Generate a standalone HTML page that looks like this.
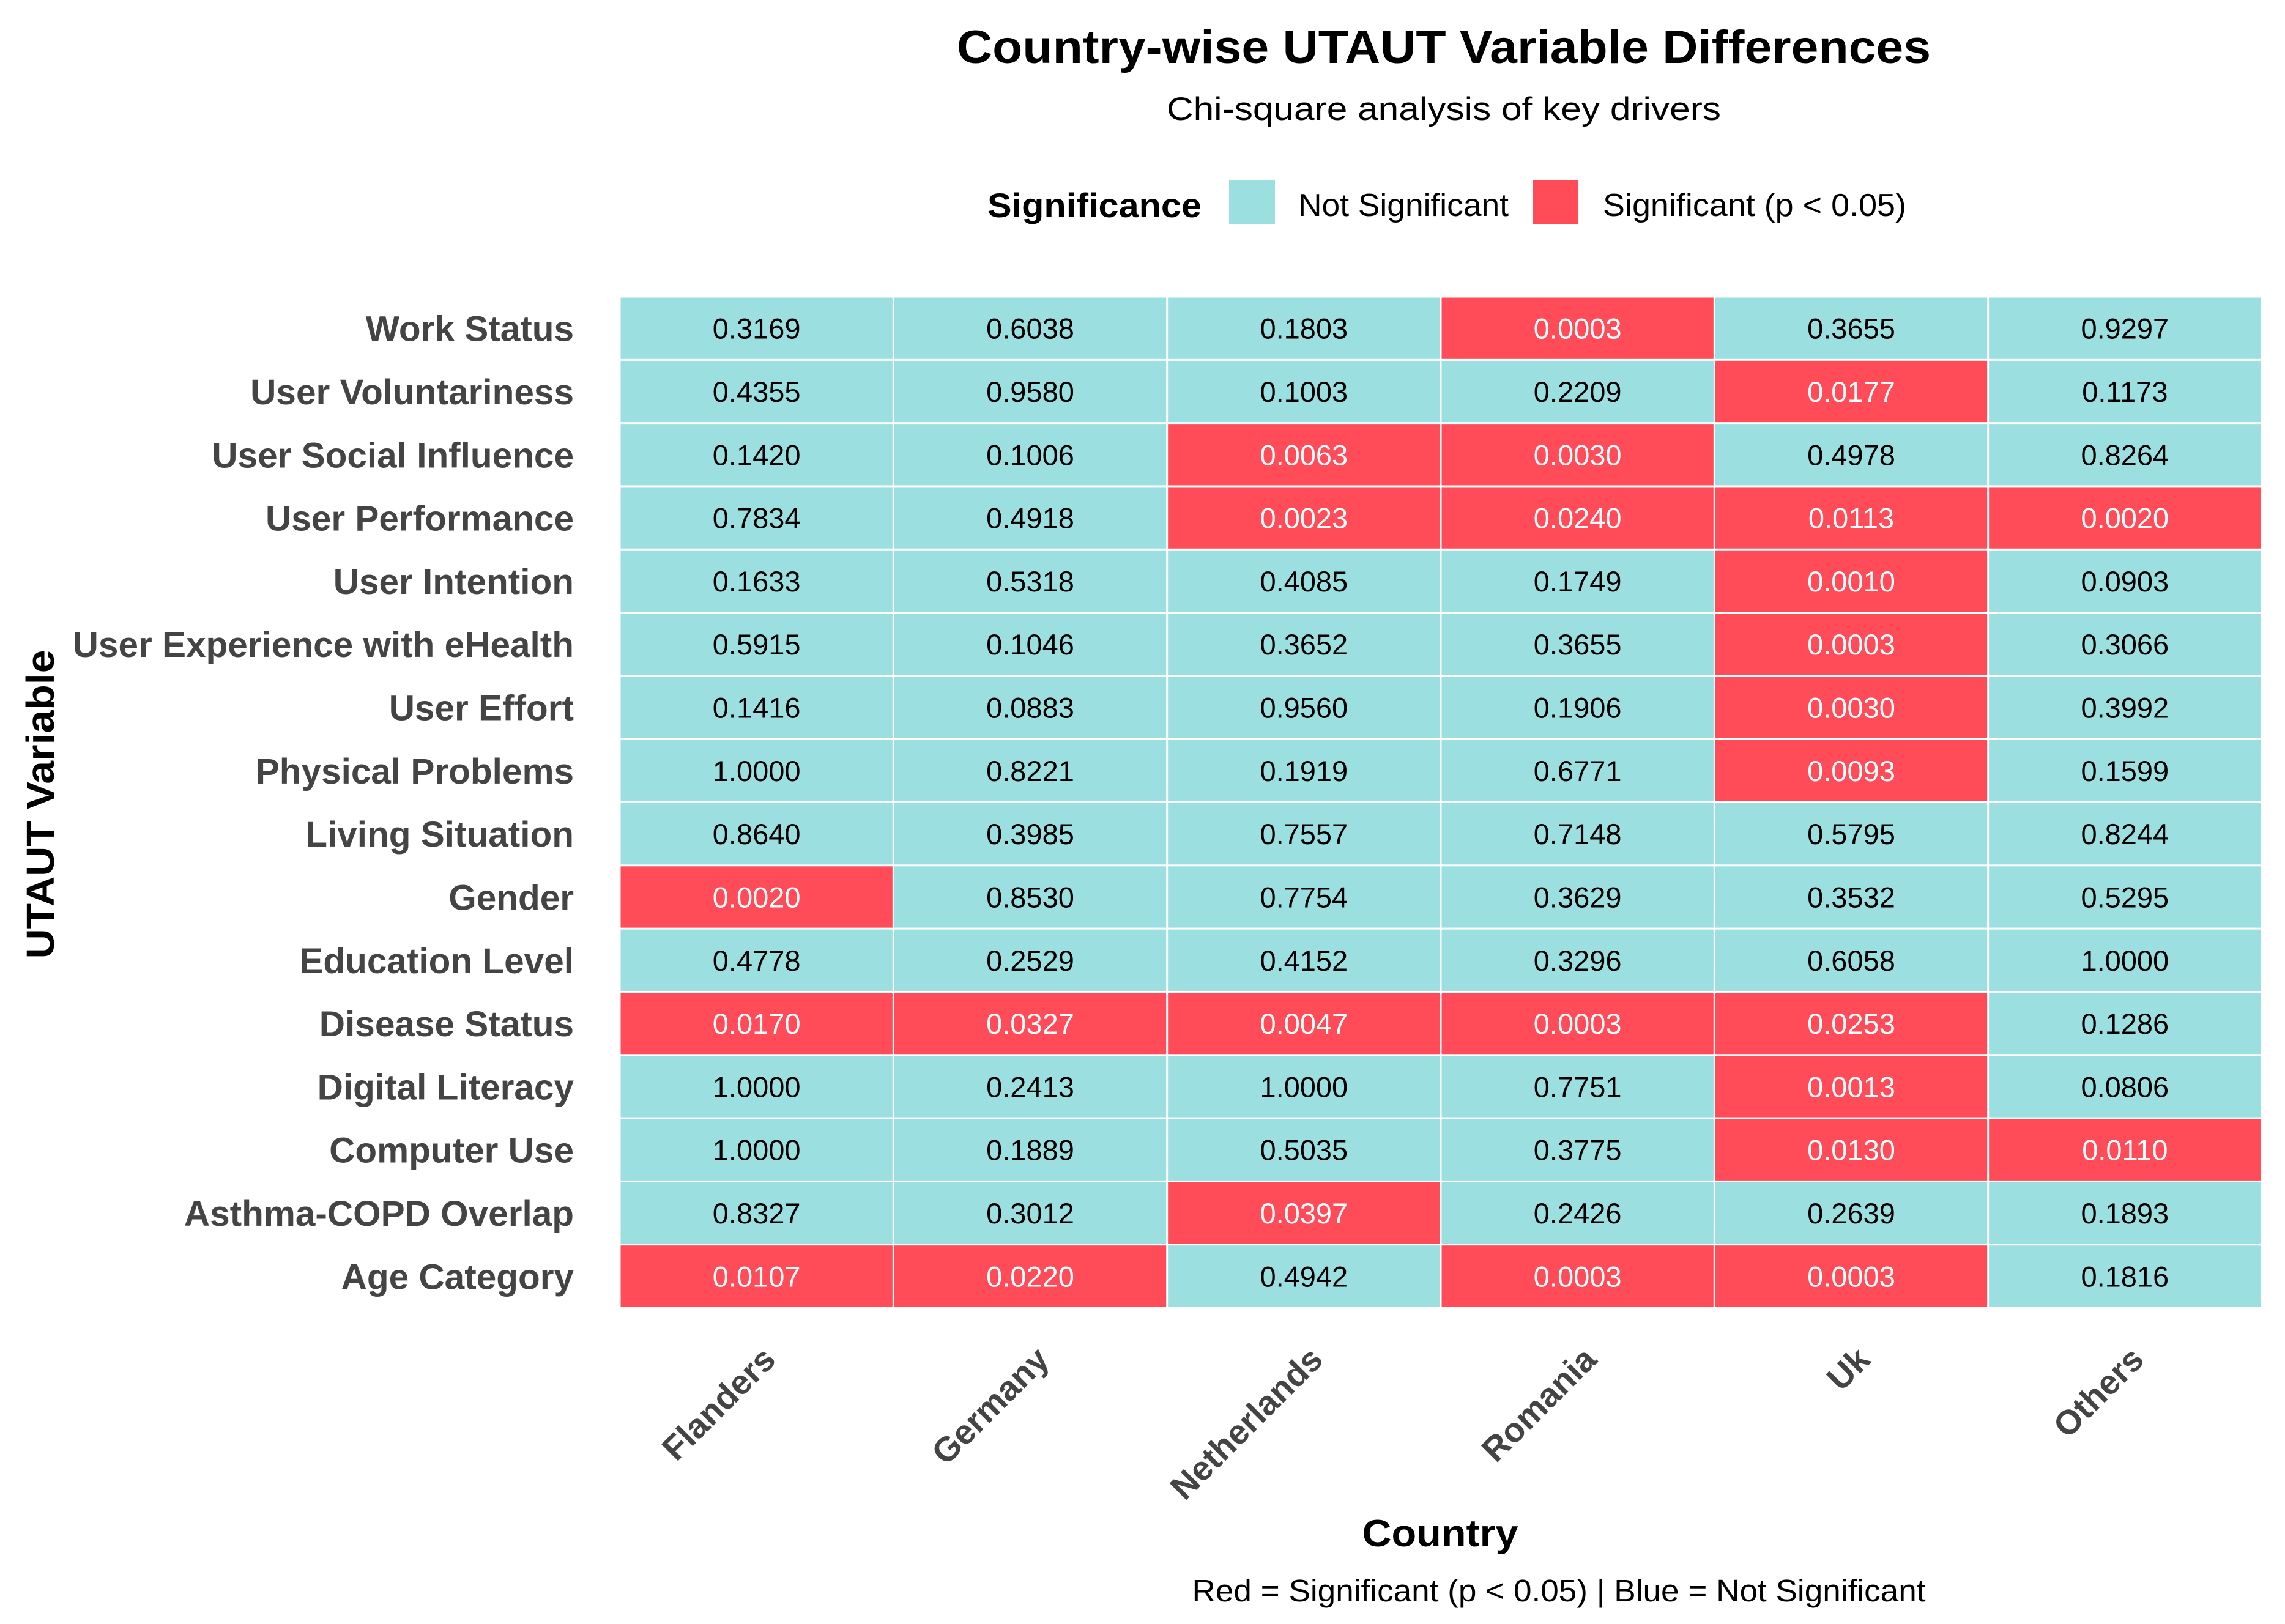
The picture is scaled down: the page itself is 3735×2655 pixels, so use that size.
<!DOCTYPE html>
<html><head><meta charset="utf-8"><style>
html,body{margin:0;padding:0;background:#fff}
svg{display:block}
text{font-family:"Liberation Sans",Arial,sans-serif}
</style></head><body>
<svg id="chart" width="3735" height="2655" viewBox="0 0 3735 2655" xmlns="http://www.w3.org/2000/svg">
<rect width="3735" height="2655" fill="#fff"/>
<text x="2360" y="103" text-anchor="middle" font-size="76" font-weight="bold" fill="#000" textLength="1592" lengthAdjust="spacingAndGlyphs">Country-wise UTAUT Variable Differences</text>
<text x="2360" y="196" text-anchor="middle" font-size="53" fill="#000" textLength="906" lengthAdjust="spacingAndGlyphs">Chi-square analysis of key drivers</text>
<g transform="translate(-14,0)">
<text x="1628" y="355" font-size="56" font-weight="bold" fill="#000" textLength="350" lengthAdjust="spacingAndGlyphs">Significance</text>
<rect x="2023" y="295" width="75" height="72" fill="#9CDFE0"/>
<text x="2136" y="353" font-size="52" fill="#000" textLength="344" lengthAdjust="spacingAndGlyphs">Not Significant</text>
<rect x="2519" y="295" width="75" height="72" fill="#FF4C58"/>
<text x="2634" y="353" font-size="52" fill="#000" textLength="496" lengthAdjust="spacingAndGlyphs">Significant (p &lt; 0.05)</text>
</g>
<g id="cells"></g>
<g id="ylabels"></g>
<g id="xlabels"></g>
<text transform="translate(88,1315) rotate(-90)" text-anchor="middle" font-size="64" font-weight="bold" fill="#000" textLength="505" lengthAdjust="spacingAndGlyphs">UTAUT Variable</text>
<text x="2354" y="2528" text-anchor="middle" font-size="62" font-weight="bold" fill="#000" textLength="255" lengthAdjust="spacingAndGlyphs">Country</text>
<text x="2548" y="2618" text-anchor="middle" font-size="51" fill="#000" textLength="1199" lengthAdjust="spacingAndGlyphs">Red = Significant (p &lt; 0.05) | Blue = Not Significant</text>
</svg>
<script>
const countries = ["Flanders","Germany","Netherlands","Romania","Uk","Others"];
const variables = ["Work Status","User Voluntariness","User Social Influence","User Performance","User Intention","User Experience with eHealth","User Effort","Physical Problems","Living Situation","Gender","Education Level","Disease Status","Digital Literacy","Computer Use","Asthma-COPD Overlap","Age Category"];
const flanders = [0.3169,0.4355,0.1420,0.7834,0.1633,0.5915,0.1416,1.0000,0.8640,0.0020,0.4778,0.0170,1.0000,1.0000,0.8327,0.0107];
const germany = [0.6038,0.9580,0.1006,0.4918,0.5318,0.1046,0.0883,0.8221,0.3985,0.8530,0.2529,0.0327,0.2413,0.1889,0.3012,0.0220];
const netherlands = [0.1803,0.1003,0.0063,0.0023,0.4085,0.3652,0.9560,0.1919,0.7557,0.7754,0.4152,0.0047,1.0000,0.5035,0.0397,0.4942];
const romania = [0.0003,0.2209,0.0030,0.0240,0.1749,0.3655,0.1906,0.6771,0.7148,0.3629,0.3296,0.0003,0.7751,0.3775,0.2426,0.0003];
const uk = [0.3655,0.0177,0.4978,0.0113,0.0010,0.0003,0.0030,0.0093,0.5795,0.3532,0.6058,0.0253,0.0013,0.0130,0.2639,0.0003];
const others = [0.9297,0.1173,0.8264,0.0020,0.0903,0.3066,0.3992,0.1599,0.8244,0.5295,1.0000,0.1286,0.0806,0.0110,0.1893,0.1816];
const series = [flanders,germany,netherlands,romania,uk,others];
const alpha = 0.05;

const NS = "http://www.w3.org/2000/svg";
const X0 = 1013, X1 = 3697, Y0 = 485, Y1 = 2138;
const colW = (X1 - X0) / countries.length;
const rowH = (Y1 - Y0) / variables.length;
function xPos(i){ return X0 + i * colW; }
function yPos(j){ return Y0 + j * rowH; }

const cells = document.getElementById('cells');
series.forEach((vals, i) => {
  vals.forEach((v, j) => {
    const sig = v < alpha;
    const r = document.createElementNS(NS, 'rect');
    r.setAttribute('x', xPos(i) + 1.5);
    r.setAttribute('y', yPos(j) + 1.5);
    r.setAttribute('width', colW - 3);
    r.setAttribute('height', rowH - 3);
    r.setAttribute('fill', sig ? '#FF4C58' : '#9CDFE0');
    
    
    cells.appendChild(r);
    const t = document.createElementNS(NS, 'text');
    t.setAttribute('x', xPos(i) + colW / 2);
    t.setAttribute('y', yPos(j) + rowH / 2 + 17);
    t.setAttribute('text-anchor', 'middle');
    t.setAttribute('font-size', '47');
    t.setAttribute('fill', sig ? '#ffffff' : '#000000');
    t.textContent = v.toFixed(4);
    
    
    cells.appendChild(t);
  });
});

const yl = document.getElementById('ylabels');
variables.forEach((name, j) => {
  const t = document.createElementNS(NS, 'text');
  t.setAttribute('x', 938);
  t.setAttribute('y', yPos(j) + rowH / 2 + 21);
  t.setAttribute('text-anchor', 'end');
  t.setAttribute('font-size', '58.5');
  t.setAttribute('font-weight', 'bold');
  t.setAttribute('fill', '#444444');
  t.textContent = name;
  
  
  yl.appendChild(t);
});

const xl = document.getElementById('xlabels');
countries.forEach((name, i) => {
  const cx = xPos(i) + colW / 2 + 34;
  const cy = 2226;
  const t = document.createElementNS(NS, 'text');
  t.setAttribute('transform', 'translate(' + cx + ',' + cy + ') rotate(-45)');
  t.setAttribute('text-anchor', 'end');
  t.setAttribute('font-size', '56');
  t.setAttribute('font-weight', 'bold');
  t.setAttribute('fill', '#444444');
  t.textContent = name;
  
  
  xl.appendChild(t);
});
</script>
</body></html>
